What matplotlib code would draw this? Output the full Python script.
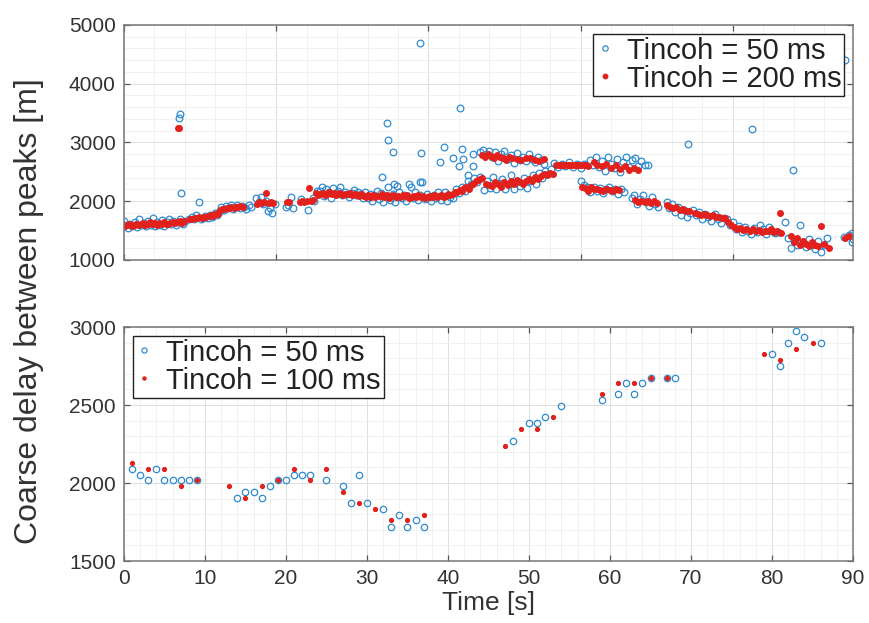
import numpy as np
import matplotlib
matplotlib.use("Agg")
import matplotlib.pyplot as plt
from matplotlib.ticker import MultipleLocator

plt.rcParams['font.family'] = ['Liberation Sans', 'DejaVu Sans']

BLUE = '#2f8bd0'
RED = '#e3211c'

# --- upper panel: Tincoh = 50 ms (circles) ---
t50_top = [
    0.0, 0.2, 0.5, 0.8, 1.1, 1.4, 1.7, 2.0, 2.3, 2.6, 2.9, 3.2, 3.5, 3.8, 4.1, 4.4, 4.7, 5.0, 5.3, 5.6,
    5.9, 6.2, 6.5, 6.8, 7.1, 7.4, 7.7, 8.0, 7.3, 7.25, 7.5,
    8.6, 8.9, 9.2, 9.5, 9.9, 10.1, 10.4, 10.7, 11.0, 11.3, 11.6, 11.9, 12.2, 12.5,
    12.8, 13.1, 13.4, 13.7, 14.0, 14.3, 14.6, 14.9, 15.2, 15.5, 15.8, 16.1, 16.4, 16.7,
    17.4, 17.7, 18.0, 18.3, 18.6, 18.9, 19.2, 19.5, 19.8, 21.3, 21.6, 21.9, 22.2,
    23.3, 24.2, 24.8, 25.0, 25.4,
    25.7, 26.0, 26.3, 26.6, 26.9, 27.2, 27.5, 27.8, 28.1, 28.4, 28.7, 29.0, 29.3, 29.6, 29.9, 30.2,
    30.5, 30.8, 31.1, 31.4,
    31.7, 32.0, 32.3, 32.6, 32.9, 33.2, 33.5, 33.8, 34.1, 34.4, 34.7, 35.0, 35.3, 35.6, 35.9, 36.2,
    36.5, 36.8, 37.1, 37.4, 37.7, 38.0, 38.3, 38.6, 38.9, 39.2, 39.5, 39.8, 40.1, 40.4, 40.7, 41.0,
    41.3, 41.6, 41.9, 42.2, 42.5, 42.8,
    34.6, 34.7, 35.4, 33.9, 35.5, 35.9, 39.0, 38.9, 38.9, 41.5, 42.0, 44.2, 43.3, 44.4, 44.5, 44.0,
    45.8, 45.9, 45.2,
    43.2, 43.6, 44.0, 44.4, 44.8, 45.2, 45.6, 46.0, 46.4, 46.8,
    46.8, 47.2, 47.6, 48.0, 48.4, 48.8, 49.2, 49.6, 50.0, 50.4, 50.8, 51.2, 51.6, 52.0, 52.4, 52.8,
    53.2, 53.6, 54.0, 54.4, 54.8, 55.2,
    47.3, 47.7, 48.1, 48.5, 48.9, 49.3, 49.7, 50.1, 50.5, 50.9, 51.3, 51.7, 52.1, 52.5, 52.9, 53.3,
    53.7, 54.1, 54.5, 54.9, 55.3, 55.7, 56.1,
    56.5, 57.0, 57.5, 58.0, 58.5, 59.0, 59.5, 60.0, 60.5,
    60.1, 60.5, 60.9, 61.3, 61.7, 62.1, 62.5, 62.9, 63.3, 63.7, 64.1, 64.5, 64.9, 65.3, 65.7,
    61.2, 61.6, 62.0, 62.4, 62.8, 63.2, 63.6, 64.0, 64.4, 64.8, 65.2, 65.6, 66.0, 66.4, 66.8, 67.2,
    67.6, 68.0, 68.4, 68.8,
    66.7, 67.0, 67.4, 67.8, 68.2, 68.6, 69.0, 69.4, 69.8, 70.2, 74.1,
    71.3, 71.6, 72.0, 72.4, 72.8, 73.2, 73.6, 74.0, 74.4,
    74.8, 75.2, 75.6, 76.0, 76.4, 76.8, 77.2, 77.6, 78.0, 78.4, 78.8, 82.5,
    79.2, 79.6, 80.0, 80.4, 80.8, 81.2, 81.6, 82.0, 82.4, 82.8, 83.2, 83.6, 84.0, 84.4, 84.8, 85.2,
    85.6, 86.0, 87.9,
    86.8, 87.2, 87.6, 88.0, 88.4, 88.8, 89.2, 89.6, 90.0, 90.4, 90.8, 91.2, 91.6, 92.0, 92.4,
    94.6, 95.3, 95.6, 95.8, 95.7, 94.8,
]
d50_top = [
    1660, 1600, 1550, 1620, 1580, 1650, 1560, 1700, 1590, 1630, 1570, 1660, 1600, 1720, 1580, 1640, 1600, 1680, 1570, 1650,
    1700, 1610, 1670, 1590, 1650, 1690, 1620, 1670, 3480, 3412, 2135,
    1690, 1740, 1700, 1760, 1987, 1690, 1720, 1750, 1720, 1770, 1730, 1800, 1760, 1820,
    1900, 1850, 1920, 1880, 1930, 1860, 1910, 1940, 1880, 1920, 1900, 1870, 1930, 1900,
    2050, 1990, 2070, 1960, 2000, 1830, 1880, 1800, 1960, 1900, 1935, 2070, 1880,
    2030, 1850, 2060, 2000, 2180,
    2180, 2250, 2090, 2200, 2150, 2060, 2230, 2120, 2170, 2250, 2100, 2160, 2130, 2080, 2140, 2190,
    2100, 2150, 2120, 2060,
    2150, 2060, 2130, 2000, 2100, 2180, 2040, 2140, 1990, 2090, 2240, 2020, 2120, 1980, 2080, 2160,
    2050, 2110, 2000, 2300, 2240, 2060, 2150, 2020, 2100, 2330, 2040, 2130, 2070, 2000, 2110, 2050,
    2160, 2020, 2090, 2150, 2010, 2080,
    3327, 3035, 2845, 2408, 2294, 2260, 2816, 4688, 2333, 2673, 2929, 3592, 2742, 2890, 2714, 2605,
    2804, 2605, 2447,
    2060, 2200, 2140, 2250, 2180, 2350, 2300, 2400, 2330, 2420,
    2840, 2870, 2800, 2850, 2760, 2830, 2690, 2800, 2860, 2720, 2780, 2650, 2820, 2700, 2760, 2680,
    2800, 2720, 2660, 2750, 2700, 2640,
    2190, 2350, 2230, 2420, 2200, 2310, 2380, 2210, 2290, 2450, 2200, 2330, 2260, 2400, 2220, 2350,
    2450, 2300, 2480, 2400, 2520, 2460, 2550,
    2650, 2580, 2640, 2600, 2660, 2590, 2640, 2570, 2630,
    2350, 2280, 2240, 2160, 2250, 2180, 2230, 2140, 2200, 2250, 2170, 2210, 2120, 2200, 2150,
    2700, 2620, 2750, 2580, 2680, 2520, 2760, 2640, 2560, 2720, 2500, 2660, 2760, 2580, 2700, 2740,
    2600, 2680, 2620, 2610,
    2060, 2100, 1950, 2040, 2110, 1990, 1920, 2080, 1960, 1900, 2969,
    1990, 1880, 1950, 1820, 1900, 1760, 1850, 1730, 1800,
    1850, 1760, 1820, 1700, 1790, 1740, 1660, 1780, 1700, 1630, 1720, 3225,
    1700, 1600, 1650, 1520, 1580, 1470, 1560, 1500, 1450, 1540, 1480, 1600, 1520, 1440, 1560, 1500,
    1460, 1470, 2525,
    1640, 1380, 1200, 1330, 1250, 1600, 1300, 1220, 1350, 1260, 1180, 1320, 1130, 1260, 1380,
    1390, 1420, 1460, 1350, 1300, 4400,
]

# --- upper panel: Tincoh = 200 ms (dots) ---
t200_top = [
    0.1, 0.4, 0.7, 1.0, 1.3, 1.6, 1.9, 2.2, 2.5, 2.8, 3.1, 3.4, 3.7, 4.0, 4.3, 4.6, 4.9, 5.2, 5.5, 5.8,
    6.1, 6.4, 6.7, 7.0, 7.3, 7.6, 7.9, 7.05, 7.2,
    8.7, 9.0, 9.3, 9.6, 9.9, 10.2, 10.5, 10.8, 11.1, 11.4, 11.7, 12.0, 12.3,
    12.6, 12.9, 13.2, 13.5, 13.8, 14.1, 14.4, 14.7, 15.0, 15.3, 15.6,
    17.5, 17.8, 18.1, 18.4, 18.7, 19.0, 19.3, 19.6, 21.4, 21.7,
    23.1, 23.4, 23.7, 24.0, 24.3, 24.6, 24.9, 25.2, 25.5,
    25.8, 26.1, 26.4, 26.7, 27.0, 27.3, 27.6, 27.9, 28.2, 28.5, 28.8, 29.1, 29.4, 29.7, 30.0, 30.3,
    30.6, 30.9, 31.2,
    31.5, 31.8, 32.1, 32.4, 32.7, 33.0, 33.3, 33.6, 33.9, 34.2, 34.5, 34.8, 35.1, 35.4, 35.7, 36.0,
    36.3, 36.6, 36.9, 37.2, 37.5, 37.8, 38.1, 38.4, 38.7, 39.0, 39.3, 39.6, 39.9, 40.2, 40.5, 40.8,
    41.1, 41.4, 41.7, 42.0, 42.3, 42.6, 42.9,
    43.2, 43.5, 43.8, 44.1, 44.4, 44.7, 45.0, 45.3, 45.6, 45.9, 46.2, 46.5, 46.8, 47.1,
    47.0, 47.4, 47.8, 48.2, 48.6, 49.0, 49.4, 49.8, 50.2, 50.6, 51.0, 51.6, 52.2, 52.8, 53.4, 54.0,
    54.6, 55.2,
    47.6, 48.0, 48.4, 48.8, 49.2, 49.6, 50.0, 50.4, 50.8, 51.2, 51.6, 52.0, 52.4, 52.8, 53.2, 53.6,
    54.0, 54.4, 54.8,
    55.2, 55.6, 56.0, 56.4,
    56.8, 57.1, 57.4, 57.7, 58.0, 58.3, 58.6, 58.9, 59.2, 59.5, 59.8, 60.1, 60.4, 60.7, 61.0,
    60.2, 60.6, 61.0, 61.4, 61.8, 62.2, 62.6, 63.0, 63.4, 63.8, 64.2, 64.6, 65.0,
    61.8, 62.2, 62.8, 63.4, 64.0, 64.6, 65.2, 65.8, 66.4, 67.0, 67.6,
    67.2, 67.6, 68.0, 68.4, 68.8, 69.2, 69.6, 70.0,
    71.4, 71.8, 72.2, 72.6, 73.0, 73.4, 73.8, 74.2,
    75.0, 75.4, 75.8, 76.2, 76.6, 77.0, 77.4, 77.8, 78.2, 78.6, 79.0,
    79.4, 79.8, 80.2, 80.6, 81.0, 81.4, 81.8, 82.2, 82.6, 83.0, 83.4, 83.8, 84.2, 84.6, 85.0, 85.4,
    85.8,
    86.2, 86.3, 87.6, 88.0, 88.4, 88.8, 89.2, 89.6, 90.0, 90.4, 90.8, 91.2, 91.6, 92.0, 92.7,
    94.8, 95.3,
]
d200_top = [
    1570, 1590, 1610, 1585, 1600, 1620, 1595, 1610, 1630, 1600, 1615, 1640, 1610, 1625, 1600, 1630, 1615, 1640, 1620, 1610,
    1635, 1650, 1625, 1640, 1655, 1630, 1660, 3252, 3252,
    1700, 1690, 1720, 1710, 1730, 1715, 1740, 1730, 1750, 1760, 1745, 1775, 1790,
    1850, 1870, 1860, 1890, 1880, 1900, 1885, 1910, 1895, 1920, 1905,
    1960, 1980, 1970, 1990, 2140, 1975, 1990, 1965, 1985, 1995,
    1995, 2005, 1990, 2010, 2225, 2000, 2015, 2140, 2100,
    2120, 2140, 2110, 2130, 2150, 2120, 2135, 2110, 2145, 2125, 2100, 2130, 2115, 2140, 2105, 2125,
    2110, 2095, 2120,
    2090, 2075, 2100, 2080, 2110, 2070, 2095, 2085, 2120, 2075, 2100, 2060, 2090, 2105, 2080, 2095,
    2070, 2110, 2085, 2100, 2060, 2075, 2095, 2080, 2110, 2065, 2085, 2050, 2070, 2090, 2080, 2100,
    2065, 2085, 2105, 2075, 2095, 2120, 2100,
    2130, 2160, 2150, 2190, 2175, 2220, 2250, 2210, 2280, 2300, 2340, 2360, 2380, 2390,
    2790, 2760, 2800, 2770, 2740, 2780, 2750, 2730, 2700, 2760, 2740, 2720, 2700, 2730, 2740, 2710,
    2690, 2720,
    2300, 2280, 2260, 2330, 2290, 2250, 2320, 2270, 2340, 2300, 2360, 2330, 2290, 2350, 2380, 2340,
    2410, 2380, 2430,
    2460, 2450, 2480, 2470,
    2610, 2620, 2615, 2625, 2610, 2620, 2615, 2625, 2610, 2620, 2615, 2610, 2625, 2615, 2600,
    2250, 2230, 2180, 2240, 2200, 2210, 2190, 2180, 2200, 2190, 2170, 2200, 2190,
    2660, 2620, 2600, 2640, 2570, 2620, 2550, 2600, 2540, 2570, 2530,
    2020, 1990, 2000, 1980, 2010, 1970, 2000, 1975,
    1930, 1900, 1880, 1910, 1850, 1870, 1830, 1840,
    1800, 1790, 1770, 1785, 1760, 1750, 1765, 1730, 1740, 1710, 1720,
    1650, 1600, 1560, 1530, 1540, 1510, 1525, 1500, 1520, 1490, 1510, 1480, 1500, 1490, 1520, 1470,
    1490,
    1800, 1465, 1400, 1300, 1380, 1260, 1320, 1280, 1240, 1300, 1260, 1230, 1580, 1280, 1205,
    1380, 1400,
]

# --- lower panel ---
t50_low = [1, 2, 3, 4, 5, 6, 7, 8, 9, 14, 15, 16, 17, 18, 19, 20, 21, 22, 23, 25, 27, 28, 29, 30,
           32, 33, 34, 35, 36, 37, 48, 50, 51, 52, 54, 59, 61, 62, 63, 64, 65, 67, 68,
           80, 81, 82, 83, 84, 86]
d50_low = [2089, 2053, 2017, 2090, 2017, 2017, 2017, 2017, 2017, 1906, 1943, 1943, 1906, 1979,
           2017, 2017, 2053, 2053, 2053, 2017, 1979, 1870, 2053, 1870, 1836, 1721, 1798, 1721,
           1760, 1721, 2272, 2385, 2385, 2421, 2494, 2530, 2568, 2643, 2568, 2643, 2674, 2674,
           2674, 2826, 2751, 2896, 2974, 2934, 2896]
t100_low = [1, 3, 5, 7, 9, 13, 15, 17, 19, 21, 23, 25, 27, 29, 31, 33, 35, 37, 47, 49, 51, 53,
            59, 61, 63, 65, 67, 79, 81, 83, 85]
d100_low = [2128, 2090, 2090, 1979, 2017, 1979, 1906, 1979, 2017, 2090, 2017, 2090, 1943, 1870,
            1836, 1760, 1760, 1798, 2238, 2347, 2347, 2421, 2568, 2643, 2643, 2674, 2674, 2826,
            2789, 2860, 2896]

fig = plt.figure(figsize=(8.7, 6.23), dpi=100)
ax1 = fig.add_axes([0.1425, 0.5827, 0.838, 0.3772])
ax2 = fig.add_axes([0.1425, 0.0995, 0.838, 0.3756])

ax1.plot(t50_top, d50_top, 'o', ls='none', ms=4.8, mfc='none', mec=BLUE, mew=0.9,
         label='Tincoh = 50 ms')
ax1.plot(t200_top, d200_top, '.', ls='none', ms=8, color=RED, label='Tincoh = 200 ms')

ax2.plot(t50_low, d50_low, 'o', ls='none', ms=4.6, mfc='none', mec=BLUE, mew=0.9,
         label='Tincoh = 50 ms')
ax2.plot(t100_low, d100_low, '.', ls='none', ms=5.5, color=RED, label='Tincoh = 100 ms')

ax1.set_xlim(0, 95.8)
ax1.set_ylim(1000, 5000)
ax1.xaxis.set_major_locator(MultipleLocator(20))
ax1.xaxis.set_minor_locator(MultipleLocator(4))
ax1.yaxis.set_major_locator(MultipleLocator(1000))
ax1.yaxis.set_minor_locator(MultipleLocator(200))
ax1.tick_params(axis='x', labelbottom=False)

ax2.set_xlim(0, 90)
ax2.set_ylim(1500, 3000)
ax2.xaxis.set_major_locator(MultipleLocator(10))
ax2.xaxis.set_minor_locator(MultipleLocator(2))
ax2.yaxis.set_major_locator(MultipleLocator(500))
ax2.yaxis.set_minor_locator(MultipleLocator(100))

for ax in (ax1, ax2):
    ax.grid(True, which='major', color='#dedede', lw=0.7)
    ax.grid(True, which='minor', color='#efefef', lw=0.6)
    ax.set_axisbelow(True)
    ax.tick_params(which='major', direction='in', length=4, width=0.9, color='#555555',
                   top=True, right=True, labelsize=15, labelcolor='#333333', pad=6)
    ax.tick_params(which='minor', length=0)
    for s in ax.spines.values():
        s.set_color('#777777')
        s.set_linewidth(1.1)

leg_kw = dict(fontsize=21, frameon=True, fancybox=False, framealpha=1, edgecolor='#222222',
              handlelength=0.6, handletextpad=0.45, borderpad=0.1, labelspacing=0.0,
              borderaxespad=0.3, markerscale=0.8)
l1 = ax1.legend(loc='upper right', **leg_kw)
l2 = ax2.legend(loc='upper left', **leg_kw)
for lg in (l1, l2):
    lg.get_frame().set_linewidth(1.0)
    for txt in lg.get_texts():
        txt.set_color('#222222')

ax2.set_xlabel('Time [s]', fontsize=19, color='#333333', labelpad=2)
fig.text(0.033, 1 - 311 / 623, 'Coarse delay between peaks [m]', rotation=90,
         ha='center', va='center', fontsize=23, color='#333333')

fig.savefig('out.png', dpi=100)
